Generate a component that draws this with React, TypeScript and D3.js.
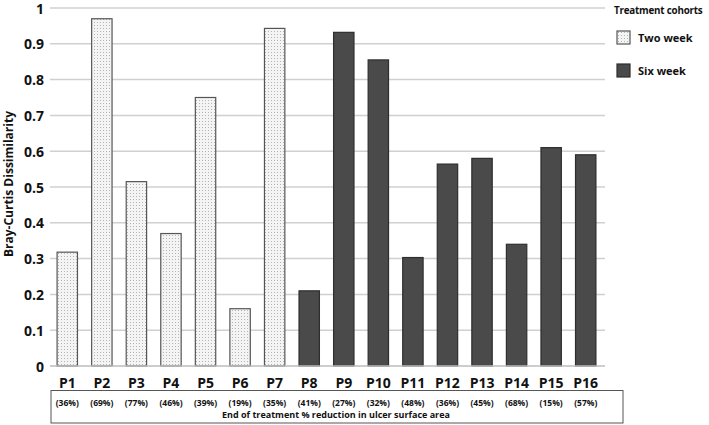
import React, { useRef, useEffect } from "react";
import { select, scaleLinear, scaleBand, axisLeft, range } from "d3";

// data
const patients = ["P1", "P2", "P3", "P4", "P5", "P6", "P7", "P8", "P9", "P10", "P11", "P12", "P13", "P14", "P15", "P16"];
const dissimilarity = [0.318, 0.97, 0.515, 0.37, 0.75, 0.16, 0.943, 0.21, 0.932, 0.855, 0.303, 0.564, 0.58, 0.34, 0.61, 0.59];
const cohort = ["two", "two", "two", "two", "two", "two", "two", "six", "six", "six", "six", "six", "six", "six", "six", "six"];
const reduction = ["(36%)", "(69%)", "(77%)", "(46%)", "(39%)", "(19%)", "(35%)", "(41%)", "(27%)", "(32%)", "(48%)", "(36%)", "(45%)", "(68%)", "(15%)", "(57%)"];
const yTicks = [0, 0.1, 0.2, 0.3, 0.4, 0.5, 0.6, 0.7, 0.8, 0.9, 1];
const legendItems = [
  { key: "two", label: "Two week" },
  { key: "six", label: "Six week" },
];

const FONT = "'Open Sans', sans-serif";

const App = () => {
  const svgRef = useRef<SVGSVGElement>(null);

  useEffect(() => {
    const svg = select(svgRef.current);
    svg.selectAll("*").remove();

    // pattern for two week bars
    const defs = svg.append("defs");
    const pat = defs
      .append("pattern")
      .attr("id", "dots")
      .attr("width", 3)
      .attr("height", 3)
      .attr("patternUnits", "userSpaceOnUse");
    pat.append("rect").attr("width", 3).attr("height", 3).attr("fill", "#f4f4f4");
    pat.append("rect").attr("x", 1).attr("y", 1).attr("width", 1).attr("height", 1).attr("fill", "#b4b4b4");

    const fillFor = (c: string) => (c === "two" ? "url(#dots)" : "#4a4a4a");

    //scales
    const yScale = scaleLinear().domain([0, 1]).range([366, 8]);
    const xScale = scaleBand().domain(patients).range([50, 603]).paddingInner(0.41).paddingOuter(0.205);

    //grid
    svg
      .append("g")
      .selectAll("line")
      .data(yTicks.slice(1))
      .join("line")
      .attr("x1", 50)
      .attr("x2", 605)
      .attr("y1", (d) => yScale(d))
      .attr("y2", (d) => yScale(d))
      .attr("stroke", "#d0d0d0")
      .attr("stroke-width", 1.5);

    // y axis labels
    const yAxis = axisLeft(yScale).tickValues(yTicks).tickSize(0).tickPadding(0).tickFormat((d) => String(+d));
    const yg = svg.append("g").attr("transform", "translate(44,0)").call(yAxis);
    yg.select(".domain").remove();
    yg.selectAll("text")
      .attr("font-family", FONT)
      .attr("font-weight", "bold")
      .attr("font-size", 14)
      .attr("fill", "#111")
      .attr("dy", "0.36em");

    //bars
    svg
      .append("g")
      .selectAll("rect")
      .data(dissimilarity)
      .join("rect")
      .attr("x", (d, i) => xScale(patients[i])!)
      .attr("y", (d) => yScale(d))
      .attr("width", xScale.bandwidth())
      .attr("height", (d) => yScale(0) - yScale(d))
      .attr("fill", (d, i) => fillFor(cohort[i]))
      .attr("stroke", (d, i) => (cohort[i] === "two" ? "#555" : "#2e2e2e"))
      .attr("stroke-width", 1.2);

    // baseline
    svg
      .append("line")
      .attr("x1", 50)
      .attr("x2", 605)
      .attr("y1", yScale(0))
      .attr("y2", yScale(0))
      .attr("stroke", "#bdbdbd")
      .attr("stroke-width", 1.5);

    // category labels
    svg
      .append("g")
      .selectAll("text")
      .data(patients)
      .join("text")
      .attr("x", (d) => xScale(d)! + xScale.bandwidth() / 2)
      .attr("y", 388)
      .attr("text-anchor", "middle")
      .attr("font-family", FONT)
      .attr("font-weight", "bold")
      .attr("font-size", 14)
      .attr("fill", "#111")
      .text((d) => d);

    // reduction box
    svg
      .append("rect")
      .attr("x", 51)
      .attr("y", 390.5)
      .attr("width", 572)
      .attr("height", 32.5)
      .attr("fill", "none")
      .attr("stroke", "#555")
      .attr("stroke-width", 1);

    svg
      .append("g")
      .selectAll("text")
      .data(reduction)
      .join("text")
      .attr("x", (d, i) => xScale(patients[i])! + xScale.bandwidth() / 2)
      .attr("y", 406)
      .attr("text-anchor", "middle")
      .attr("font-family", FONT)
      .attr("font-weight", "bold")
      .attr("font-size", 8.5)
      .attr("fill", "#111")
      .text((d) => d);

    svg
      .append("text")
      .attr("x", 336)
      .attr("y", 418)
      .attr("text-anchor", "middle")
      .attr("font-family", FONT)
      .attr("font-weight", "bold")
      .attr("font-size", 9)
      .attr("fill", "#111")
      .text("End of treatment % reduction in ulcer surface area");

    // y title
    svg
      .append("text")
      .attr("transform", `translate(13,184) rotate(-90)`)
      .attr("text-anchor", "middle")
      .attr("font-family", FONT)
      .attr("font-weight", "bold")
      .attr("font-size", 12)
      .attr("fill", "#111")
      .text("Bray-Curtis Dissimilarity");

    // legend
    const lg = svg.append("g");
    lg.append("text")
      .attr("x", 614)
      .attr("y", 14)
      .attr("font-family", FONT)
      .attr("font-weight", "bold")
      .attr("font-size", 9.8)
      .attr("letter-spacing", -0.2)
      .attr("fill", "#111")
      .text("Treatment cohorts");
    const items = lg
      .selectAll("g.item")
      .data(legendItems)
      .join("g")
      .attr("class", "item")
      .attr("transform", (d, i) => `translate(617,${range(2)[i] * 33 + 31})`);
    items
      .append("rect")
      .attr("width", 13)
      .attr("height", 13)
      .attr("fill", (d) => fillFor(d.key))
      .attr("stroke", (d) => (d.key === "two" ? "#555" : "#2e2e2e"))
      .attr("stroke-width", 1.2);
    items
      .append("text")
      .attr("x", 21)
      .attr("y", 11)
      .attr("font-family", FONT)
      .attr("font-weight", "bold")
      .attr("font-size", 11)
      .attr("fill", "#111")
      .text((d) => d.label);
  }, []);

  return <svg ref={svgRef} width={709} height={425} style={{ position: "absolute", left: 0, top: 0, background: "#fff" }} />;
};

export default App;
